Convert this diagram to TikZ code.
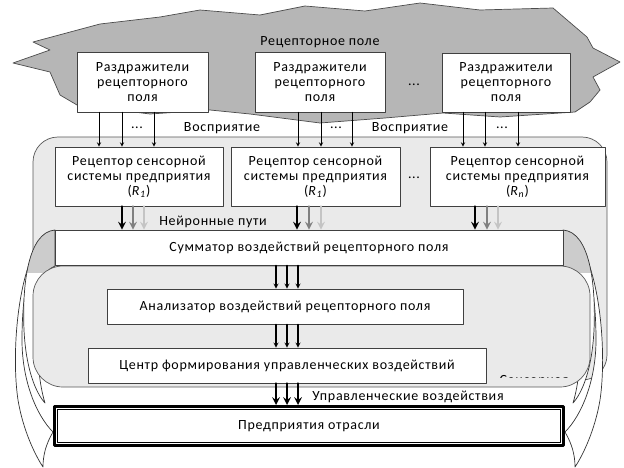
\documentclass[tikz,border=0pt]{standalone}
\usepackage{fontspec}
\setmainfont{Carlito}[LetterSpace=5]
\definecolor{fieldgray}{RGB}{182,182,182}
\definecolor{sensgray}{RGB}{234,234,234}
\definecolor{wedgegray}{RGB}{204,204,204}
\definecolor{pathmid}{RGB}{128,128,128}
\definecolor{pathlight}{RGB}{196,196,196}

\newcommand\shortbandpath{(55,230) .. controls (28,232) and (22,285) .. (24,330) .. controls (26,370) and (36,393) .. (45,403) .. controls (41,390) and (37,368) .. (37,330) .. controls (37,295) and (42,270) .. (55,266) -- cycle}
\newcommand\longbandpath{(34,252) .. controls (16,290) and (12,360) .. (18,400) .. controls (23,430) and (35,455) .. (43,467) .. controls (43,455) and (46,444) .. (53,432) .. controls (36,415) and (22,380) .. (22,340) .. controls (22,300) and (27,272) .. (36,256) -- cycle}

\tikzset{
  box/.style={draw=black!75, fill=white, align=center, inner sep=2pt, line width=0.8pt},
  thin arrow/.style={->, >=stealth, line width=0.9pt},
  fat arrow/.style={->, >=stealth, line width=2.4pt},
  bandline/.style={draw=black!80, line width=0.7pt},
  shortband/.pic={
    \fill[white] \shortbandpath;
    \begin{scope}
      \clip (0,225) rectangle (60,272);
      \fill[wedgegray] \shortbandpath;
    \end{scope}
    \draw[bandline] \shortbandpath;
  },
  longband/.pic={
    \filldraw[fill=white, bandline] \longbandpath;
  },
}

\begin{document}
\begin{tikzpicture}[x=1pt, y=-1pt, line cap=round, line join=round, font=\fontsize{14}{15}\selectfont]
\useasboundingbox (0,0) rectangle (624,468);

% receptor field
\filldraw[fill=fieldgray, draw=black!70, line width=0.7pt] (100,24) -- (160,17) -- (200,10) -- (260,15) -- (305,6) -- (365,11) -- (420,3) -- (480,10) -- (553,8) -- (587,37) -- (593,48) -- (620,62) -- (593,77) -- (600,90) -- (590,102) -- (575,112) -- (500,117) -- (443,113) -- (385,118) -- (320,123) -- (250,114) -- (210,110) -- (150,114) -- (77,105) -- (60,95) -- (50,72) -- (13,63) -- (50,50) -- (33,42) -- cycle;
\node (field) at (320,42) {Рецепторное поле};

% sensory system
\filldraw[fill=sensgray, draw=black!65, line width=0.7pt, rounded corners=25pt] (33,137) rectangle (607,380);
\pic at (0,0) {longband};
\pic[xscale=-1] at (618,0) {longband};
\pic at (0,0) {shortband};
\pic[xscale=-1] at (618,0) {shortband};
\filldraw[fill=sensgray, draw=black!65, line width=0.7pt, rounded corners=30pt] (33,266) rectangle (590,387);
\begin{scope}
  \clip (490,366) rectangle (590,377);
  \node[anchor=west] (senslabel) at (496,381) {Сенсорная};
\end{scope}

% stimuli
\node[box, minimum width=131pt, minimum height=60pt] (raz1) at (142.5,82) {Раздражители\\рецепторного\\поля};
\node[box, minimum width=130pt, minimum height=60pt] (raz2) at (320,82) {Раздражители\\рецепторного\\поля};
\node[box, minimum width=128pt, minimum height=59pt] (raz3) at (506,82.5) {Раздражители\\рецепторного\\поля};
\node (razdots) at (414,85) {...};

% receptors
\node[box, minimum width=168pt, minimum height=59pt] (rec1) at (139,176.5) {Рецептор сенсорной\\системы предприятия\\(\textit{R}\textsubscript{\textit{1}})};
\node[box, minimum width=169pt, minimum height=59pt] (rec2) at (315.5,176.5) {Рецептор сенсорной\\системы предприятия\\(\textit{R}\textsubscript{\textit{1}})};
\node[box, minimum width=175pt, minimum height=59pt] (rec3) at (517.5,176.5) {Рецептор сенсорной\\системы предприятия\\(\textit{R}\textsubscript{\textit{n}})};
\node (recdots) at (414,178) {...};

% perception
\foreach \x in {99,122,154} \draw[thin arrow] (\x,0 |- raz1.south) -- (\x,0 |- rec1.north);
\foreach \x in {298,321,352} \draw[thin arrow] (\x,0 |- raz2.south) -- (\x,0 |- rec2.north);
\foreach \x in {463,485,518} \draw[thin arrow] (\x,0 |- raz3.south) -- (\x,0 |- rec3.north);
\node (dots1) at (137,128) {...};
\node (dots2) at (336,128) {...};
\node (dots3) at (502,128) {...};
\node (perc1) at (222,128) {Восприятие};
\node (perc2) at (410,128) {Восприятие};

% summator and analyzer
\node[box, minimum width=508pt, minimum height=35pt] (summ) at (309,247.5) {Сумматор воздействий рецепторного поля};
\node[box, minimum width=356pt, minimum height=35pt] (anal) at (285,306.5) {Анализатор воздействий рецепторного поля};
\node[box, minimum width=398pt, minimum height=35pt] (cntr) at (287,365.5) {Центр формирования управленческих воздействий};

% neural paths
\foreach \x/\c in {122/black,133/pathmid,144/pathlight} \draw[fat arrow, \c] (\x,0 |- rec1.south) -- (\x,0 |- summ.north);
\foreach \x/\c in {297/black,309/pathmid,321/pathlight} \draw[fat arrow, \c] (\x,0 |- rec2.south) -- (\x,0 |- summ.north);
\foreach \x/\c in {475/black,487/pathmid,498/pathlight} \draw[fat arrow, \c] (\x,0 |- rec3.south) -- (\x,0 |- summ.north);
\node (neur) at (213,222) {Нейронные пути};

\foreach \x in {276,287,298} \draw[thin arrow, line width=1.2pt] (\x,0 |- summ.south) -- (\x,0 |- anal.north);
\foreach \x in {276,287,298} \draw[thin arrow, line width=1.2pt] (\x,0 |- anal.south) -- (\x,0 |- cntr.north);

% enterprise
\node[draw, fill=white, line width=3pt, minimum width=509pt, minimum height=39pt] (ent) at (309,426) {Предприятия отрасли};
\draw[line width=0.8pt] ([shift={(4.5,4.5)}]ent.north west) rectangle ([shift={(-4.5,-4.5)}]ent.south east);
\foreach \x in {276,287,298} \draw[fat arrow] (\x,0 |- cntr.south) -- (\x,0 |- ent.north);
\node (ctrl) at (408,397) {Управленческие воздействия};
\end{tikzpicture}
\end{document}
